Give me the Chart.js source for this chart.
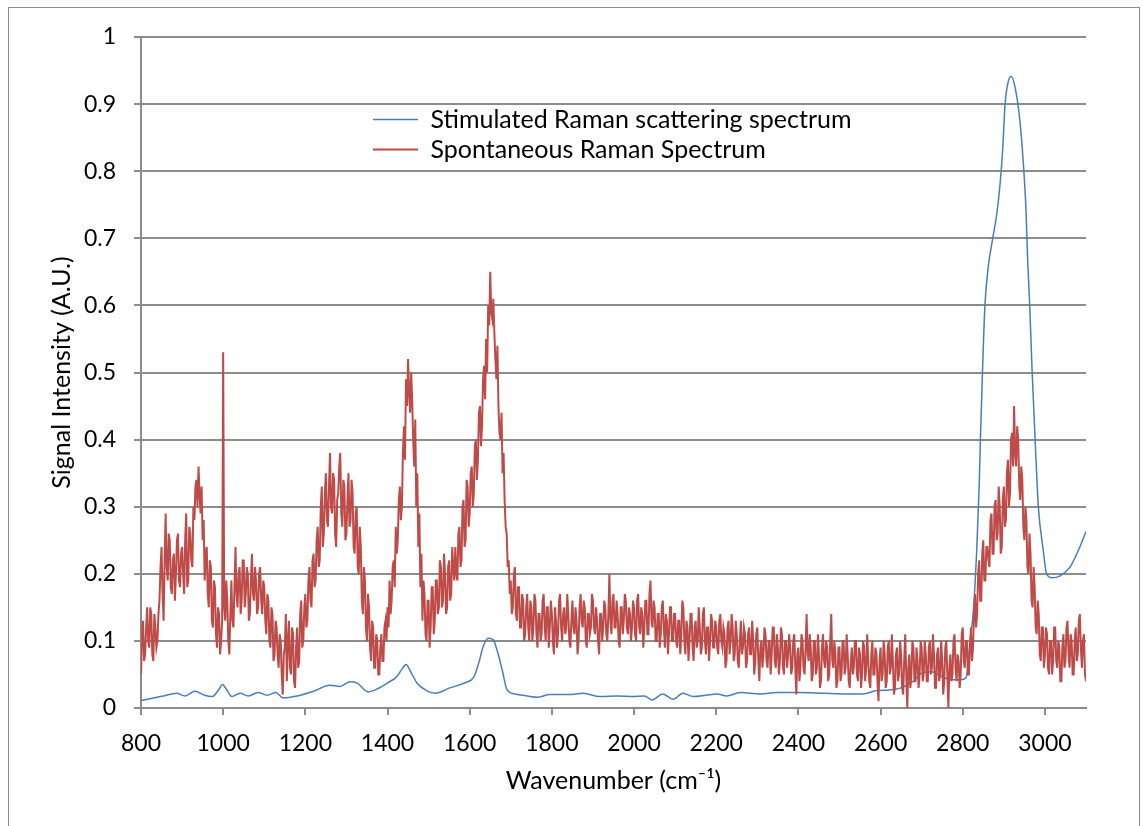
<!DOCTYPE html>
<html>
<head>
<meta charset="utf-8">
<script src="https://cdn.jsdelivr.net/npm/chart.js@4.4.1/dist/chart.umd.min.js"></script>
<style>
    body { margin: 0; background: #fff; }
    #wrap { position: relative; width: 1143px; height: 826px; overflow: hidden; }
    #frame { position: absolute; left: 8px; top: 7px; width: 1132px; height: 860px; border: 1px solid #8c8c8c; box-sizing: border-box; }
    #chart { position: absolute; left: 0; top: 0; }
</style>
</head>
<body>
<div id="wrap">
    <div id="frame"></div>
    <canvas id="chart" width="1143" height="826"></canvas>
</div>
<script>
// Spontaneous Raman spectrum, one value every 2.5 cm-1 from 800 to 3100 (40 values per 100 cm-1)
const spontStart = 800;
const spontStep = 2.5;
const spontaneous = [
    // 800
    0.05,0.11,0.13,0.07,0.08,0.12,0.15,0.10,0.09,0.15,0.14,0.08,0.07,0.14,0.12,0.09,0.10,0.14,0.16,0.21,
    0.24,0.17,0.13,0.22,0.29,0.21,0.19,0.26,0.25,0.18,0.17,0.22,0.23,0.16,0.20,0.25,0.26,0.19,0.18,0.23,
    // 900
    0.24,0.20,0.17,0.25,0.29,0.18,0.19,0.27,0.26,0.22,0.21,0.30,0.28,0.33,0.34,0.30,0.36,0.32,0.29,0.33,
    0.25,0.28,0.19,0.23,0.24,0.17,0.15,0.22,0.21,0.13,0.12,0.19,0.18,0.11,0.09,0.15,0.14,0.08,0.10,0.13,
    // 1000
    0.53,0.15,0.13,0.19,0.16,0.10,0.08,0.14,0.19,0.13,0.12,0.18,0.24,0.17,0.15,0.20,0.21,0.14,0.16,0.22,
    0.22,0.15,0.17,0.21,0.20,0.13,0.14,0.19,0.23,0.17,0.16,0.21,0.19,0.14,0.15,0.20,0.21,0.16,0.14,0.19,
    // 1100
    0.18,0.13,0.11,0.17,0.16,0.10,0.09,0.15,0.14,0.07,0.08,0.13,0.12,0.08,0.06,0.11,0.10,0.05,0.02,0.08,
    0.09,0.14,0.04,0.10,0.13,0.06,0.05,0.12,0.11,0.04,0.03,0.09,0.12,0.06,0.07,0.14,0.16,0.09,0.10,0.15,
    // 1200
    0.17,0.12,0.13,0.19,0.21,0.16,0.15,0.22,0.23,0.18,0.19,0.25,0.27,0.21,0.22,0.30,0.33,0.24,0.26,0.32,
    0.35,0.28,0.27,0.33,0.38,0.30,0.29,0.35,0.34,0.26,0.24,0.31,0.32,0.36,0.38,0.29,0.27,0.34,0.33,0.25,
    // 1300
    0.26,0.31,0.35,0.27,0.28,0.34,0.32,0.24,0.23,0.29,0.30,0.21,0.20,0.27,0.24,0.16,0.14,0.21,0.19,0.12,
    0.10,0.17,0.15,0.09,0.07,0.13,0.12,0.06,0.06,0.11,0.10,0.05,0.05,0.09,0.11,0.07,0.07,0.12,0.13,0.10,
    // 1400
    0.15,0.12,0.19,0.14,0.16,0.21,0.22,0.18,0.27,0.23,0.25,0.31,0.33,0.28,0.30,0.38,0.42,0.37,0.49,0.45,
    0.52,0.47,0.44,0.50,0.46,0.40,0.36,0.43,0.30,0.35,0.24,0.29,0.18,0.23,0.13,0.19,0.17,0.11,0.10,0.16,
    // 1500
    0.16,0.09,0.12,0.18,0.18,0.11,0.13,0.19,0.19,0.14,0.15,0.22,0.21,0.15,0.16,0.23,0.20,0.14,0.15,0.21,
    0.22,0.16,0.17,0.24,0.21,0.19,0.24,0.20,0.19,0.26,0.27,0.21,0.22,0.30,0.31,0.24,0.25,0.34,0.33,0.27,
    // 1600
    0.29,0.35,0.36,0.30,0.32,0.39,0.40,0.34,0.37,0.44,0.45,0.39,0.42,0.49,0.51,0.46,0.55,0.50,0.60,0.57,
    0.65,0.59,0.58,0.61,0.56,0.52,0.49,0.54,0.45,0.41,0.40,0.44,0.35,0.38,0.31,0.27,0.26,0.21,0.22,0.17,
    // 1700
    0.19,0.14,0.15,0.20,0.21,0.14,0.13,0.18,0.18,0.12,0.12,0.17,0.16,0.10,0.11,0.15,0.17,0.12,0.10,0.16,
    0.15,0.10,0.12,0.17,0.16,0.11,0.09,0.14,0.14,0.10,0.11,0.16,0.17,0.12,0.10,0.15,0.15,0.09,0.12,0.16,
    // 1800
    0.14,0.10,0.08,0.15,0.13,0.09,0.11,0.16,0.17,0.12,0.10,0.14,0.15,0.11,0.12,0.17,0.14,0.10,0.09,0.13,
    0.16,0.12,0.11,0.15,0.13,0.08,0.10,0.15,0.17,0.13,0.12,0.16,0.15,0.10,0.09,0.14,0.14,0.11,0.12,0.17,
    // 1900
    0.16,0.12,0.11,0.15,0.13,0.10,0.08,0.14,0.14,0.10,0.12,0.16,0.15,0.11,0.10,0.14,0.20,0.13,0.11,0.16,
    0.17,0.12,0.12,0.16,0.14,0.10,0.09,0.15,0.15,0.11,0.13,0.17,0.16,0.12,0.11,0.15,0.14,0.10,0.12,0.16,
    // 2000
    0.15,0.11,0.10,0.16,0.17,0.12,0.11,0.15,0.14,0.09,0.12,0.16,0.16,0.11,0.11,0.17,0.19,0.13,0.12,0.16,
    0.15,0.10,0.10,0.14,0.14,0.09,0.11,0.15,0.16,0.12,0.09,0.14,0.13,0.08,0.11,0.15,0.15,0.10,0.10,0.14,
    // 2100
    0.14,0.10,0.09,0.13,0.13,0.08,0.11,0.16,0.15,0.10,0.08,0.13,0.12,0.07,0.10,0.14,0.14,0.09,0.07,0.12,
    0.13,0.09,0.10,0.15,0.12,0.08,0.09,0.14,0.15,0.10,0.08,0.12,0.12,0.07,0.10,0.14,0.13,0.09,0.09,0.13,
    // 2200
    0.12,0.09,0.08,0.13,0.14,0.10,0.09,0.12,0.11,0.06,0.07,0.12,0.13,0.08,0.10,0.14,0.12,0.07,0.08,0.13,
    0.11,0.07,0.06,0.10,0.13,0.08,0.09,0.12,0.11,0.06,0.07,0.11,0.12,0.08,0.08,0.13,0.10,0.05,0.07,0.11,
    // 2300
    0.12,0.07,0.04,0.09,0.10,0.06,0.08,0.12,0.11,0.07,0.06,0.10,0.10,0.05,0.08,0.12,0.12,0.07,0.06,0.11,
    0.09,0.05,0.07,0.12,0.11,0.06,0.05,0.10,0.10,0.06,0.08,0.11,0.09,0.05,0.06,0.10,0.11,0.06,0.02,0.08,
    // 2400
    0.09,0.04,0.06,0.11,0.10,0.06,0.05,0.09,0.14,0.08,0.07,0.11,0.09,0.04,0.05,0.10,0.10,0.05,0.06,0.11,
    0.08,0.03,0.04,0.09,0.11,0.07,0.06,0.10,0.09,0.04,0.05,0.10,0.14,0.07,0.06,0.10,0.08,0.03,0.04,0.09,
    // 2500
    0.09,0.04,0.05,0.10,0.10,0.05,0.06,0.11,0.08,0.04,0.03,0.07,0.09,0.05,0.06,0.10,0.10,0.05,0.04,0.09,
    0.08,0.03,0.05,0.10,0.09,0.04,0.06,0.11,0.07,0.04,0.03,0.08,0.10,0.05,0.05,0.09,0.08,0.04,0.01,0.07,
    // 2600
    0.09,0.04,0.05,0.10,0.08,0.03,0.04,0.09,0.10,0.05,0.06,0.11,0.07,0.02,0.03,0.08,0.09,0.04,0.05,0.10,
    0.08,0.03,0.02,0.07,0.11,0.05,0.00,0.06,0.08,0.03,0.05,0.10,0.09,0.04,0.04,0.09,0.07,0.03,0.05,0.10,
    // 2700
    0.09,0.04,0.05,0.10,0.08,0.04,0.04,0.09,0.10,0.05,0.06,0.11,0.08,0.03,0.03,0.08,0.09,0.04,0.05,0.10,
    0.07,0.02,0.04,0.09,0.10,0.05,0.00,0.06,0.08,0.04,0.05,0.10,0.11,0.06,0.04,0.08,0.07,0.03,0.05,0.11,
    // 2800
    0.12,0.07,0.06,0.10,0.10,0.05,0.05,0.09,0.12,0.07,0.09,0.14,0.17,0.12,0.14,0.20,0.22,0.16,0.16,0.23,
    0.25,0.19,0.19,0.24,0.24,0.22,0.21,0.28,0.29,0.23,0.23,0.30,0.31,0.25,0.26,0.33,0.30,0.23,0.24,0.31,
    // 2900
    0.33,0.27,0.28,0.35,0.37,0.30,0.32,0.40,0.41,0.36,0.45,0.38,0.36,0.42,0.40,0.33,0.31,0.36,0.34,0.27,
    0.25,0.30,0.28,0.21,0.20,0.26,0.23,0.16,0.15,0.21,0.18,0.12,0.11,0.16,0.14,0.08,0.07,0.12,0.12,0.06,
    // 3000
    0.08,0.12,0.11,0.06,0.05,0.10,0.10,0.05,0.07,0.12,0.12,0.07,0.06,0.10,0.09,0.04,0.04,0.09,0.11,0.06,
    0.07,0.12,0.13,0.08,0.06,0.11,0.10,0.05,0.05,0.10,0.12,0.07,0.08,0.13,0.14,0.09,0.06,0.10,0.11,0.05,
    // 3100
    0.04
];

// Stimulated Raman scattering spectrum (smooth curve, read at uneven wavenumbers)
const stimulatedX = [
    800, 830, 855, 887, 907, 931, 955, 973, 990, 998, 1008, 1021, 1041, 1061, 1085, 1107, 1128, 1146,
    1180, 1220, 1260, 1284, 1309, 1326, 1353, 1377, 1399, 1423, 1435, 1445, 1458, 1472, 1495, 1516,
    1552, 1590, 1610, 1622, 1633, 1645, 1657, 1668, 1679, 1691, 1710, 1740, 1764, 1795, 1840, 1876,
    1917, 1960, 1997, 2025, 2044, 2070, 2095, 2119, 2144, 2175, 2202, 2226, 2258, 2307, 2348, 2404,
    2460, 2520, 2557, 2591, 2623, 2650, 2680, 2700, 2725, 2745, 2765, 2790, 2808, 2818, 2826, 2834,
    2840, 2843, 2848, 2854, 2862, 2873, 2883, 2891, 2897, 2903, 2911, 2918, 2927, 2939, 2947, 2954,
    2958, 2963, 2969, 2978, 2984, 2996, 3004, 3017, 3037, 3061, 3085, 3100
];
const stimulatedY = [
    0.011, 0.015, 0.018, 0.022, 0.018, 0.025, 0.019, 0.017, 0.028, 0.035, 0.028, 0.017, 0.022, 0.018, 0.023, 0.019, 0.023, 0.015,
    0.018, 0.025, 0.034, 0.032, 0.039, 0.037, 0.024, 0.029, 0.037, 0.047, 0.058, 0.065, 0.052, 0.037, 0.026, 0.022,
    0.030, 0.038, 0.046, 0.067, 0.092, 0.104, 0.102, 0.083, 0.057, 0.027, 0.021, 0.018, 0.016, 0.020, 0.020, 0.022,
    0.017, 0.018, 0.017, 0.018, 0.012, 0.021, 0.013, 0.022, 0.017, 0.019, 0.021, 0.018, 0.023, 0.021, 0.023, 0.023,
    0.022, 0.021, 0.021, 0.026, 0.027, 0.030, 0.040, 0.052, 0.054, 0.048, 0.043, 0.042, 0.045, 0.100, 0.146, 0.235,
    0.330, 0.400, 0.500, 0.600, 0.657, 0.700, 0.737, 0.782, 0.830, 0.900, 0.934, 0.941, 0.926, 0.876, 0.816, 0.742,
    0.668, 0.600, 0.500, 0.375, 0.300, 0.235, 0.200, 0.194, 0.197, 0.210, 0.240, 0.263
];

const xTickValues = [800, 1000, 1200, 1400, 1600, 1800, 2000, 2200, 2400, 2600, 2800, 3000];
const yTickValues = [0, 0.1, 0.2, 0.3, 0.4, 0.5, 0.6, 0.7, 0.8, 0.9, 1];

const seriesLabels = ['Stimulated Raman scattering spectrum', 'Spontaneous Raman Spectrum'];

const spontPoints = spontaneous.map((v, i) => ({ x: spontStart + i * spontStep, y: v }));
const stimPoints = stimulatedX.map((x, i) => ({ x: x, y: stimulatedY[i] }));

const gridColor = '#8c8c8c';
const fontFamily = 'Lato, "Open Sans", sans-serif';

// put the legend inside the plot, below the top gridline
const legendPlacer = {
    id: 'legendPlacer',
    afterLayout(chart) {
        const lg = chart.legend;
        if (!lg) return;
        lg.left = 368;
        lg.top = 102;
    }
};

new Chart(document.getElementById('chart').getContext('2d'), {
    type: 'line',
    data: {
        datasets: [
            {
                label: seriesLabels[0],
                data: stimPoints,
                borderColor: '#4a7ebb',
                backgroundColor: '#4a7ebb',
                borderWidth: 1.5,
                pointRadius: 0,
                cubicInterpolationMode: 'monotone',
                order: 2
            },
            {
                label: seriesLabels[1],
                data: spontPoints,
                borderColor: '#be4b48',
                backgroundColor: '#be4b48',
                borderWidth: 2,
                pointRadius: 0,
                tension: 0,
                order: 1
            }
        ]
    },
    options: {
        responsive: false,
        animation: false,
        devicePixelRatio: 1,
        events: [],
        layout: { padding: { left: 10, right: 57, top: 37, bottom: 0 } },
        plugins: {
            tooltip: { enabled: false },
            legend: {
                position: 'chartArea',
                align: 'start',
                labels: {
                    usePointStyle: true,
                    pointStyle: 'line',
                    pointStyleWidth: 45,
                    padding: 5,
                    color: '#000',
                    font: { family: fontFamily, size: 25 },
                    sort: (a, b) => a.datasetIndex - b.datasetIndex
                }
            }
        },
        scales: {
            x: {
                type: 'linear',
                min: 800,
                max: 3100,
                afterBuildTicks: (scale) => { scale.ticks = xTickValues.map(v => ({ value: v })); },
                afterFit: (scale) => { scale.height = 118; },
                grid: { drawOnChartArea: false, drawTicks: true, tickLength: 7, color: gridColor, lineWidth: 2 },
                border: { color: gridColor, width: 2 },
                ticks: {
                    color: '#000',
                    padding: 15,
                    maxRotation: 0,
                    font: { family: fontFamily, size: 23 },
                    callback: (v) => String(v)
                },
                title: {
                    display: true,
                    text: 'Wavenumber (cm⁻¹)',
                    color: '#000',
                    font: { family: fontFamily, size: 25 },
                    padding: { top: 0, bottom: 30 }
                }
            },
            y: {
                min: 0,
                max: 1,
                afterBuildTicks: (scale) => { scale.ticks = yTickValues.map(v => ({ value: v })); },
                afterFit: (scale) => { scale.width = 131; },
                grid: { color: gridColor, lineWidth: 2, tickLength: 7 },
                border: { color: gridColor, width: 2 },
                ticks: {
                    color: '#000',
                    padding: 18,
                    font: { family: fontFamily, size: 23 },
                    callback: (v) => String(Math.round(v * 10) / 10)
                },
                title: {
                    display: true,
                    text: 'Signal Intensity (A.U.)',
                    color: '#000',
                    font: { family: fontFamily, size: 25 },
                    padding: { top: 37, bottom: 0 }
                }
            }
        }
    },
    plugins: [legendPlacer]
});
</script>
</body>
</html>
